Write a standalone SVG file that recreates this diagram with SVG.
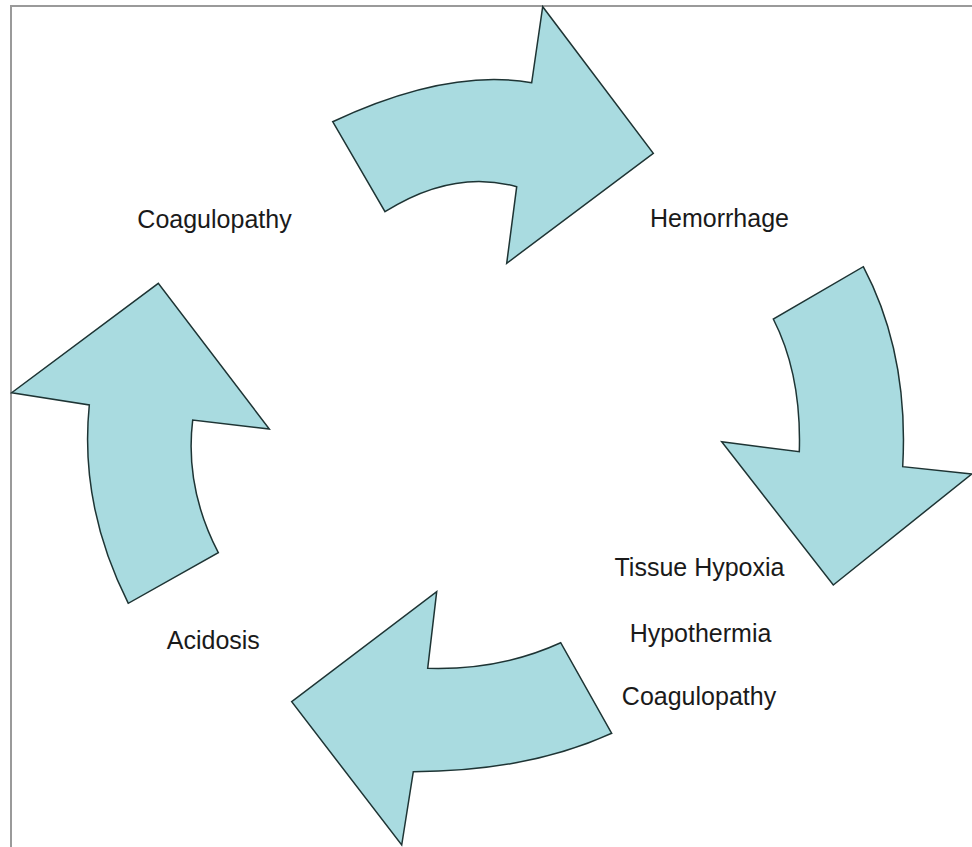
<svg xmlns="http://www.w3.org/2000/svg" width="972" height="847" viewBox="0 0 972 847">
<style>
.arrow{fill:#a9dbe0;stroke:#1e3434;stroke-width:1.5;stroke-linejoin:miter}
.lbl{font-family:"Liberation Sans",Arial,sans-serif;font-size:25px;fill:#1a1a1a;text-anchor:middle}
.frame{stroke:#9a9a9a;stroke-width:2;fill:none}
</style>
<rect width="972" height="847" fill="#ffffff"/>
<path class="frame" d="M11,847 V6 H972"/>
<g id="connectors">
<path id="arrow-top" class="arrow" d="M332.7,121.7 Q447.8,67.8 531.7,82.7 L542.7,6.7 L653.3,153.3 L506.7,263.3 L516.7,186.7 Q453.2,168.8 385,211.7 Z"/>
<path id="arrow-right" class="arrow" d="M863.3,266.7 Q909,353.3 902.7,466.7 L971.7,474 L833.3,585 L721.7,441.7 L799.3,451.7 Q801.7,374.6 773.3,319 Z"/>
<path id="arrow-bottom" class="arrow" d="M611.7,733.3 Q527.5,771.5 413.3,771.7 L401.7,845 L291.7,701.7 L436.7,591.7 L427.7,668.3 Q499.8,670.5 560.7,642.7 Z"/>
<path id="arrow-left" class="arrow" d="M128.3,603.3 Q79.2,505.8 89.3,405 L11.7,392.7 L158.3,283.3 L269.3,429 L192.7,420 Q184.5,487.6 218.3,552.7 Z"/>
</g>
<g id="node-coagulopathy-top"><text class="lbl" x="214.5" y="228">Coagulopathy</text></g>
<g id="node-hemorrhage"><text class="lbl" x="719.5" y="227">Hemorrhage</text></g>
<g id="node-tissue"><text class="lbl" x="699.5" y="576">Tissue Hypoxia</text><text class="lbl" x="700.5" y="642">Hypothermia</text><text class="lbl" x="699" y="705">Coagulopathy</text></g>
<g id="node-acidosis"><text class="lbl" x="213.3" y="649">Acidosis</text></g>
</svg>
